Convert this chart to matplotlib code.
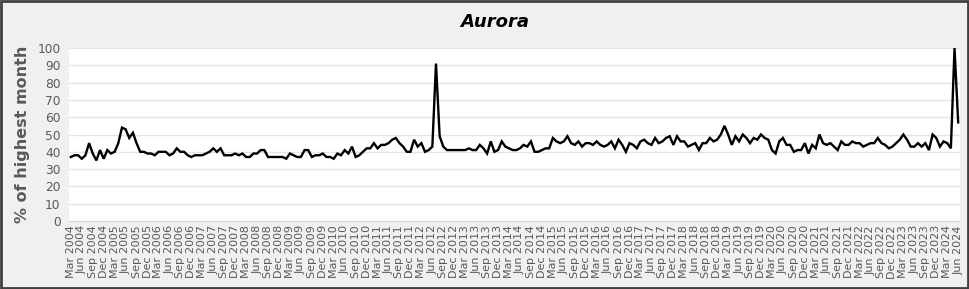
import matplotlib
matplotlib.use("Agg")
import matplotlib.pyplot as plt
from matplotlib.patches import Rectangle

# monthly search interest, Mar 2004 - Jun 2024 (% of highest month)
vals_2004_2006 = [37, 38, 38, 36, 38, 45, 39, 35, 41, 36, 41, 39, 40, 45, 54, 53,
                  48, 51, 45, 40, 40, 39, 39, 38, 40, 40, 40, 38, 39, 42, 40, 40,
                  38, 37]
vals_2007_2009 = [38, 38, 38, 39, 40, 42, 40, 42, 38, 38, 38, 39, 38, 39, 37, 37,
                  39, 39, 41, 41, 37, 37, 37, 37, 37, 36, 39, 38, 37, 37, 41, 41,
                  37, 38, 38, 39]
vals_2010_2012 = [37, 37, 36, 39, 38, 41, 39, 43, 37, 38, 40, 42, 42, 45, 42, 44,
                  44, 45, 47, 48, 45, 43, 40, 40, 47, 43, 45, 40, 41, 43, 91, 49,
                  43, 41, 41, 41]
vals_2013_2015 = [41, 41, 41, 42, 41, 41, 44, 42, 39, 46, 40, 41, 46, 43, 42, 41,
                  41, 42, 44, 43, 46, 40, 40, 41, 42, 42, 48, 46, 45, 46, 49, 45,
                  44, 46, 43, 45]
vals_2016_2018 = [45, 44, 46, 44, 43, 44, 46, 42, 47, 44, 40, 45, 44, 42, 46, 47,
                  45, 44, 48, 45, 46, 48, 49, 44, 49, 46, 46, 43, 44, 45, 41, 45,
                  45, 48, 46, 47]
vals_2019_2021 = [50, 55, 50, 44, 49, 46, 50, 48, 45, 48, 47, 50, 48, 47, 41, 39,
                  46, 48, 44, 44, 40, 41, 41, 45, 39, 44, 42, 50, 45, 44, 45, 43,
                  41, 46, 44, 44]
vals_2022_2024 = [46, 45, 45, 43, 44, 45, 45, 48, 45, 44, 42, 43, 45, 47, 50, 47,
                  43, 43, 45, 43, 45, 41, 50, 48, 43, 46, 45, 42, 100, 57]

values = (vals_2004_2006 + vals_2007_2009 + vals_2010_2012 + vals_2013_2015
          + vals_2016_2018 + vals_2019_2021 + vals_2022_2024)

month_names = ["Jan", "Feb", "Mar", "Apr", "May", "Jun",
               "Jul", "Aug", "Sep", "Oct", "Nov", "Dec"]
start_year, start_month = 2004, 2  # Mar 2004 (0-based month)
months = [f"{month_names[(start_month + i) % 12]} {start_year + (start_month + i) // 12}"
          for i in range(len(values))]

grey = "#595959"

fig = plt.figure(figsize=(9.7, 2.89), dpi=100, facecolor="#f0f0f0")
ax = fig.add_axes([69 / 970, 1 - 221 / 289, 891 / 970, 173 / 289])
ax.set_facecolor("white")

x = list(range(len(values)))
ax.plot(x, values, color="black", lw=1.7, solid_joinstyle="miter", zorder=3)

ax.set_xlim(-0.5, len(values) - 0.5)
ax.set_ylim(0, 100)
ax.set_yticks(range(0, 101, 10))
ax.grid(axis="y", color="#e3e3e3", lw=1)
ax.set_axisbelow(True)

tick_pos = list(range(0, len(values), 3))
ax.set_xticks(tick_pos)
ax.set_xticklabels([months[i] for i in tick_pos], rotation=90, fontsize=8, color=grey)
ax.tick_params(axis="x", length=0, pad=3)
ax.tick_params(axis="y", length=0, pad=6, labelsize=8.8, labelcolor=grey)

for s in ["top", "right", "left"]:
    ax.spines[s].set_visible(False)
ax.spines["bottom"].set_color("#d9d9d9")

ax.set_ylabel("% of highest month", fontsize=11.5, fontweight="bold", color=grey, labelpad=5)
fig.text(0.51, 0.925, "Aurora", ha="center", va="center", fontsize=13,
         fontweight="bold", style="italic", color="black")

fig.patches.append(Rectangle((0.001, 0.002), 0.997, 0.995, transform=fig.transFigure,
                             fill=False, edgecolor="#404040", lw=2))

fig.savefig("out.png", dpi=100, facecolor=fig.get_facecolor())
